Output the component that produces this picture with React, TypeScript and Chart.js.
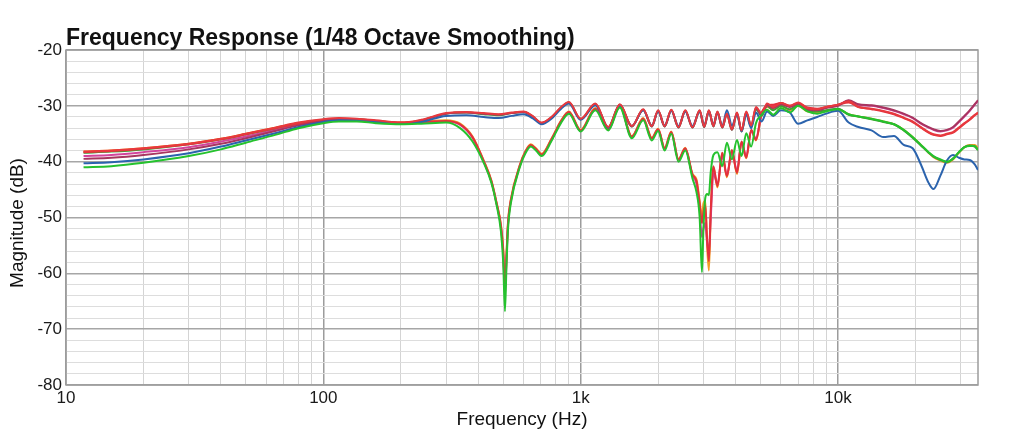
import { useEffect, useRef } from 'react';
import { Chart, registerables } from 'chart.js';
import type { Plugin } from 'chart.js';

Chart.register(...registerables);

const FONT = '"Liberation Sans", Arial, Helvetica, sans-serif';

// Frequencies (Hz) for the responses without the deep notches
const upperFreqs = [
  11.7, 15, 20, 30, 40, 50, 65, 80, 100, 115,
  135, 160, 200, 240, 300, 360, 420, 480, 540, 600,
  650, 705, 770, 840, 900, 1000, 1140, 1280, 1420, 1580,
  1750, 1890, 2000, 2120, 2250, 2400, 2550, 2720, 2900, 3020,
  3150, 3280, 3400, 3550, 3700, 3870, 4050, 4220, 4400, 4600,
  4800, 5050, 5300, 5600, 6000, 6500, 7000, 7600, 8300, 9000,
  10000, 11000, 12000, 13500, 15000, 16500, 18000, 19500, 21000, 22500,
  23500, 25000, 26500, 28000, 29500, 31000, 32500, 34000, 35000,
];

const redUpper = [
  -38.2, -38.0, -37.6, -36.8, -35.9, -35.0, -33.9, -33.0, -32.4, -32.2,
  -32.3, -32.6, -33.0, -32.5, -31.3, -31.1, -31.3, -31.5, -31.2, -31.0,
  -31.8, -33.0, -32.0, -30.2, -29.3, -32.3, -29.6, -33.8, -29.7, -33.6,
  -30.6, -33.6, -30.8, -33.6, -30.7, -33.8, -30.8, -33.8, -30.8, -33.7,
  -30.8, -33.6, -31.0, -33.8, -31.4, -34.2, -31.2, -34.4, -31.0, -33.5,
  -30.2, -31.4, -29.6, -30.2, -29.5, -30.0, -29.4, -30.4, -30.6, -30.2,
  -29.8, -29.2, -30.2, -30.5, -30.9, -31.4, -32.1, -32.8, -33.8, -34.7,
  -35.1, -35.3, -35.0, -34.7, -33.9, -33.1, -32.4, -31.6, -31.2,
];

const maroonUpper = [
  -39.5, -39.3, -38.8, -37.8, -36.8, -35.8, -34.5, -33.5, -32.7, -32.4,
  -32.4, -32.7, -33.1, -32.6, -31.4, -31.2, -31.4, -31.6, -31.3, -31.1,
  -31.9, -33.1, -32.1, -30.3, -29.4, -32.4, -29.7, -33.9, -29.8, -33.7,
  -30.7, -33.7, -30.9, -33.7, -30.8, -33.9, -30.9, -33.9, -30.9, -33.8,
  -30.9, -33.7, -31.1, -33.9, -31.5, -34.3, -31.3, -34.5, -31.1, -33.6,
  -30.4, -31.6, -29.8, -30.4, -29.7, -30.2, -29.6, -30.6, -30.8, -30.4,
  -30.0, -29.0, -29.7, -29.9, -30.3, -30.8, -31.4, -32.1, -33.1, -33.8,
  -34.2, -34.5, -34.3, -33.8, -32.8, -31.8, -30.8, -29.7, -29.0,
];

const blueUpper = [
  -40.3, -40.1, -39.6, -38.5, -37.3, -36.2, -34.9, -33.8, -32.9, -32.6,
  -32.6, -32.9, -33.2, -32.9, -31.8, -31.7, -32.0, -32.2, -31.8, -31.5,
  -32.2, -33.3, -32.3, -30.5, -29.6, -32.5, -29.9, -33.9, -30.0, -33.6,
  -30.8, -33.5, -31.0, -33.5, -30.9, -33.6, -31.0, -33.6, -31.0, -33.5,
  -31.0, -33.4, -31.2, -33.6, -30.8, -33.5, -31.6, -34.6, -31.6, -34.0,
  -31.2, -32.8, -31.0, -31.8, -30.8, -31.2, -33.2, -32.6, -32.0, -31.4,
  -30.9, -33.0, -33.8, -34.4, -35.6, -35.4, -37.0, -37.6, -40.5, -43.8,
  -44.9, -42.5, -39.8, -38.8, -39.3, -39.6, -39.7, -40.5, -41.5,
];

const greenUpper = [
  -38.4, -38.2, -37.8, -36.9, -36.0, -35.1, -34.0, -33.1, -32.5, -32.3,
  -32.4, -32.7, -33.1, -32.6, -31.4, -31.2, -31.5, -31.7, -31.3, -31.1,
  -31.9, -33.1, -32.1, -30.3, -29.4, -32.4, -29.7, -33.9, -29.8, -33.7,
  -30.7, -33.7, -30.9, -33.7, -30.8, -33.9, -30.9, -33.9, -30.9, -33.8,
  -30.9, -33.7, -31.1, -33.9, -31.5, -34.3, -31.4, -34.6, -31.3, -33.8,
  -30.6, -31.8, -30.0, -30.8, -30.0, -30.6, -29.8, -30.8, -31.0, -30.8,
  -30.5, -31.6, -31.9, -32.4, -32.9, -33.3, -34.4, -35.7, -37.1, -38.4,
  -39.1, -39.7, -40.1, -39.4, -38.3, -37.4, -37.1, -37.3, -37.9,
];

// Frequencies (Hz) for the responses with notches near 500 Hz and 3 kHz
const dipFreqs = [
  11.7, 15, 20, 30, 40, 50, 65, 80, 100, 115,
  135, 160, 200, 240, 300, 340, 380, 420, 450, 470,
  490, 500, 508, 515, 522, 535, 580, 610, 640, 670,
  705, 770, 840, 900, 1000, 1140, 1280, 1420, 1580, 1750,
  1890, 2000, 2120, 2250, 2400, 2550, 2720, 2820, 2900, 2960,
  3000, 3050, 3100, 3150, 3200, 3280, 3400, 3550, 3700, 3870,
  4050, 4220, 4400, 4600, 4800, 5050, 5300, 5600, 6000, 6500,
  7000, 7600, 8300, 9000, 10000, 11000, 12000, 13500, 15000, 16500,
  18000, 19500, 21000, 22500, 23500, 25000, 26500, 28000, 29500, 31000,
  32500, 34000, 35000,
];

const greenDip = [
  -41.0, -40.8, -40.2, -39.0, -37.8, -36.6, -35.2, -34.0, -33.1, -32.8,
  -32.8, -33.1, -33.3, -33.2, -33.0, -34.0, -36.4, -40.2, -43.8, -47.5,
  -52.5, -58.0, -66.8, -58.5, -52.0, -47.5, -41.0, -38.5, -37.3, -38.0,
  -39.0, -36.3, -33.0, -31.4, -34.6, -30.8, -34.4, -30.3, -35.8, -32.6,
  -36.2, -34.5, -38.0, -35.0, -40.0, -38.0, -43.0, -45.5, -50.0, -59.8,
  -52.0, -46.5, -45.8, -46.0, -42.0, -38.8, -38.3, -40.8, -36.6, -39.6,
  -36.1, -39.0, -34.9, -37.3, -33.1, -31.6, -30.7, -31.6, -30.4, -31.2,
  -30.0, -31.0, -31.4, -31.0, -30.6, -31.5, -31.9, -32.3, -32.8, -33.3,
  -34.3, -35.6, -37.0, -38.3, -39.0, -39.6, -40.0, -39.5, -38.3, -37.4,
  -37.2, -37.2, -37.9,
];

const redDip = [
  -38.3, -38.1, -37.7, -36.9, -36.0, -35.1, -34.0, -33.2, -32.7, -32.5,
  -32.5, -32.8, -33.0, -32.9, -32.7, -33.3, -35.6, -39.9, -43.5, -47.2,
  -51.5, -56.0, -63.0, -57.0, -51.0, -47.0, -40.7, -38.2, -37.0, -37.7,
  -38.7, -36.0, -32.7, -31.1, -34.4, -30.5, -34.2, -30.0, -35.5, -32.3,
  -35.8, -34.2, -37.6, -34.7, -39.6, -37.6, -42.3, -43.5, -47.5, -51.0,
  -49.0, -47.8, -54.0, -57.8, -49.0, -40.8, -44.4, -38.4, -42.6, -37.9,
  -42.0, -36.4, -39.3, -34.3, -36.1, -31.3, -30.0, -29.8, -29.5, -30.0,
  -29.6, -30.3, -30.5, -30.2, -29.8, -29.4, -30.2, -30.6, -31.0, -31.5,
  -32.2, -32.9, -33.9, -34.8, -35.2, -35.4, -35.1, -34.8, -34.0, -33.2,
  -32.5, -31.7, -31.3,
];

const magentaDip = [
  -39.0, -38.8, -38.3, -37.4, -36.4, -35.5, -34.3, -33.4, -32.8, -32.6,
  -32.6, -32.9, -33.1, -33.0, -32.8, -33.4, -35.7, -40.0, -43.6, -47.3,
  -51.8, -56.5, -64.0, -57.5, -51.3, -47.2, -40.8, -38.3, -37.1, -37.8,
  -38.8, -36.1, -32.8, -31.2, -34.5, -30.6, -34.3, -30.1, -35.6, -32.4,
  -35.9, -34.3, -37.7, -34.8, -39.7, -37.7, -42.5, -44.0, -48.5, -53.5,
  -52.0, -51.0, -54.5, -56.0, -50.5, -42.0, -44.0, -39.0, -42.4, -38.2,
  -41.6, -36.6, -39.0, -34.5, -35.8, -31.4, -30.1, -29.9, -29.6, -30.1,
  -29.7, -30.4, -30.6, -30.3, -29.9, -29.1, -29.8, -30.0, -30.4, -30.9,
  -31.5, -32.2, -33.2, -33.9, -34.3, -34.6, -34.4, -33.9, -32.9, -31.9,
  -30.9, -29.8, -29.1,
];

const orangeDip = [
  -38.2, -38.0, -37.6, -36.8, -35.9, -35.0, -33.9, -33.1, -32.6, -32.4,
  -32.4, -32.7, -33.0, -32.8, -32.6, -33.2, -35.5, -39.8, -43.4, -47.1,
  -51.3, -55.5, -62.5, -56.5, -50.8, -46.8, -40.6, -38.1, -36.9, -37.6,
  -38.6, -35.9, -32.6, -31.0, -34.3, -30.4, -34.1, -29.9, -35.4, -32.2,
  -35.7, -34.1, -37.5, -34.6, -39.5, -37.5, -42.2, -43.2, -47.0, -50.0,
  -47.5, -47.0, -55.0, -59.5, -50.0, -41.0, -44.6, -38.5, -42.8, -38.0,
  -42.2, -36.5, -39.4, -34.4, -36.2, -31.4, -30.2, -30.6, -30.0, -30.8,
  -30.0, -31.0, -31.2, -30.9, -30.6, -31.5, -31.9, -32.3, -32.8, -33.3,
  -34.3, -35.6, -37.0, -38.4, -39.2, -39.8, -40.2, -39.6, -38.4, -37.4,
  -37.0, -37.0, -37.6,
];

const xGridTicks = [
  10, 20, 30, 40, 50, 60, 70, 80, 90,
  100, 200, 300, 400, 500, 600, 700, 800, 900,
  1000, 2000, 3000, 4000, 5000, 6000, 7000, 8000, 9000,
  10000, 20000, 30000,
];
const xTickLabels: Record<number, string> = { 10: '10', 100: '100', 1000: '1k', 10000: '10k' };

const yGridTicks = [
  -80, -78, -76, -74, -72, -70, -68, -66, -64, -62,
  -60, -58, -56, -54, -52, -50, -48, -46, -44, -42,
  -40, -38, -36, -34, -32, -30, -28, -26, -24, -22, -20,
];

const TITLE = 'Frequency Response (1/48 Octave Smoothing)';
const X_TITLE = 'Frequency (Hz)';
const Y_TITLE = 'Magnitude (dB)';

// first entry is drawn on top
const series = [
  { label: 'green notch', color: '#25c22e', freqs: dipFreqs, values: greenDip },
  { label: 'red', color: '#e8393e', freqs: upperFreqs, values: redUpper },
  { label: 'blue', color: '#2b63ad', freqs: upperFreqs, values: blueUpper },
  { label: 'maroon', color: '#a8355f', freqs: upperFreqs, values: maroonUpper },
  { label: 'red notch', color: '#e4313b', freqs: dipFreqs, values: redDip },
  { label: 'green', color: '#3e9f36', freqs: upperFreqs, values: greenUpper },
  { label: 'magenta notch', color: '#d2449c', freqs: dipFreqs, values: magentaDip },
  { label: 'orange notch', color: '#f29b26', freqs: dipFreqs, values: orangeDip },
];

const isDecade = (v: number) => {
  const l = Math.log10(v);
  return Math.abs(l - Math.round(l)) < 1e-9;
};

const framePlugin: Plugin<'line'> = {
  id: 'frameAndTitles',
  beforeDatasetsDraw(chart) {
    const { ctx, chartArea } = chart;
    ctx.save();
    ctx.strokeStyle = '#9c9c9c';
    ctx.lineWidth = 1.5;
    ctx.strokeRect(chartArea.left, chartArea.top, chartArea.right - chartArea.left, chartArea.bottom - chartArea.top);
    ctx.restore();
  },
  afterDraw(chart) {
    const { ctx, chartArea } = chart;
    ctx.save();
    ctx.fillStyle = '#111111';
    ctx.font = `bold 23px ${FONT}`;
    ctx.textAlign = 'left';
    ctx.textBaseline = 'alphabetic';
    ctx.fillText(TITLE, chartArea.left, 45);

    ctx.font = `19px ${FONT}`;
    ctx.textAlign = 'center';
    ctx.textBaseline = 'middle';
    ctx.fillText(X_TITLE, (chartArea.left + chartArea.right) / 2, 420);

    ctx.translate(18, 223);
    ctx.rotate(-Math.PI / 2);
    ctx.fillText(Y_TITLE, 0, 0);
    ctx.restore();
  },
};

export default function App() {
  const canvasRef = useRef<HTMLCanvasElement | null>(null);

  useEffect(() => {
    const canvas = canvasRef.current;
    if (!canvas) return undefined;

    const chart = new Chart(canvas, {
      type: 'line',
      data: {
        datasets: series.map((s) => ({
          label: s.label,
          data: s.freqs.map((x, i) => ({ x, y: s.values[i] })),
          borderColor: s.color,
          backgroundColor: s.color,
          borderWidth: 2,
          pointRadius: 0,
          cubicInterpolationMode: 'monotone' as const,
          fill: false,
        })),
      },
      options: {
        animation: false,
        responsive: true,
        maintainAspectRatio: false,
        layout: { padding: { top: 50, right: 46, left: 0, bottom: 0 } },
        plugins: {
          legend: { display: false },
          tooltip: { enabled: false },
          title: { display: false },
        },
        scales: {
          x: {
            type: 'logarithmic',
            min: 10,
            max: 35000,
            afterBuildTicks: (scale) => {
              scale.ticks = xGridTicks.map((value) => ({ value }));
            },
            afterFit: (scale) => {
              scale.height = 56;
            },
            border: { display: false },
            grid: {
              drawTicks: false,
              color: (ctx) => (ctx.tick && isDecade(ctx.tick.value) ? '#9c9c9c' : '#d4d4d4'),
              lineWidth: (ctx) => (ctx.tick && isDecade(ctx.tick.value) ? 1.5 : 1),
            },
            ticks: {
              autoSkip: false,
              maxRotation: 0,
              minRotation: 0,
              padding: 3,
              color: '#1a1a1a',
              font: { family: FONT, size: 17 },
              callback: (value) => xTickLabels[Number(value)] ?? '',
            },
          },
          y: {
            type: 'linear',
            min: -80,
            max: -20,
            afterBuildTicks: (scale) => {
              scale.ticks = yGridTicks.map((value) => ({ value }));
            },
            afterFit: (scale) => {
              scale.width = 66;
            },
            border: { display: false },
            grid: {
              drawTicks: false,
              color: (ctx) => (ctx.tick && ctx.tick.value % 10 === 0 ? '#a6a6a6' : '#dddddd'),
              lineWidth: (ctx) => (ctx.tick && ctx.tick.value % 10 === 0 ? 1.5 : 1),
            },
            ticks: {
              autoSkip: false,
              padding: 4,
              color: '#1a1a1a',
              font: { family: FONT, size: 17 },
              callback: (value) => (Number(value) % 10 === 0 ? String(value) : ''),
            },
          },
        },
      },
      plugins: [framePlugin],
    });

    return () => {
      chart.destroy();
    };
  }, []);

  return (
    <div style={{ position: 'absolute', left: 0, top: 0, width: 1024, height: 441, background: '#ffffff' }}>
      <canvas ref={canvasRef} />
    </div>
  );
}
